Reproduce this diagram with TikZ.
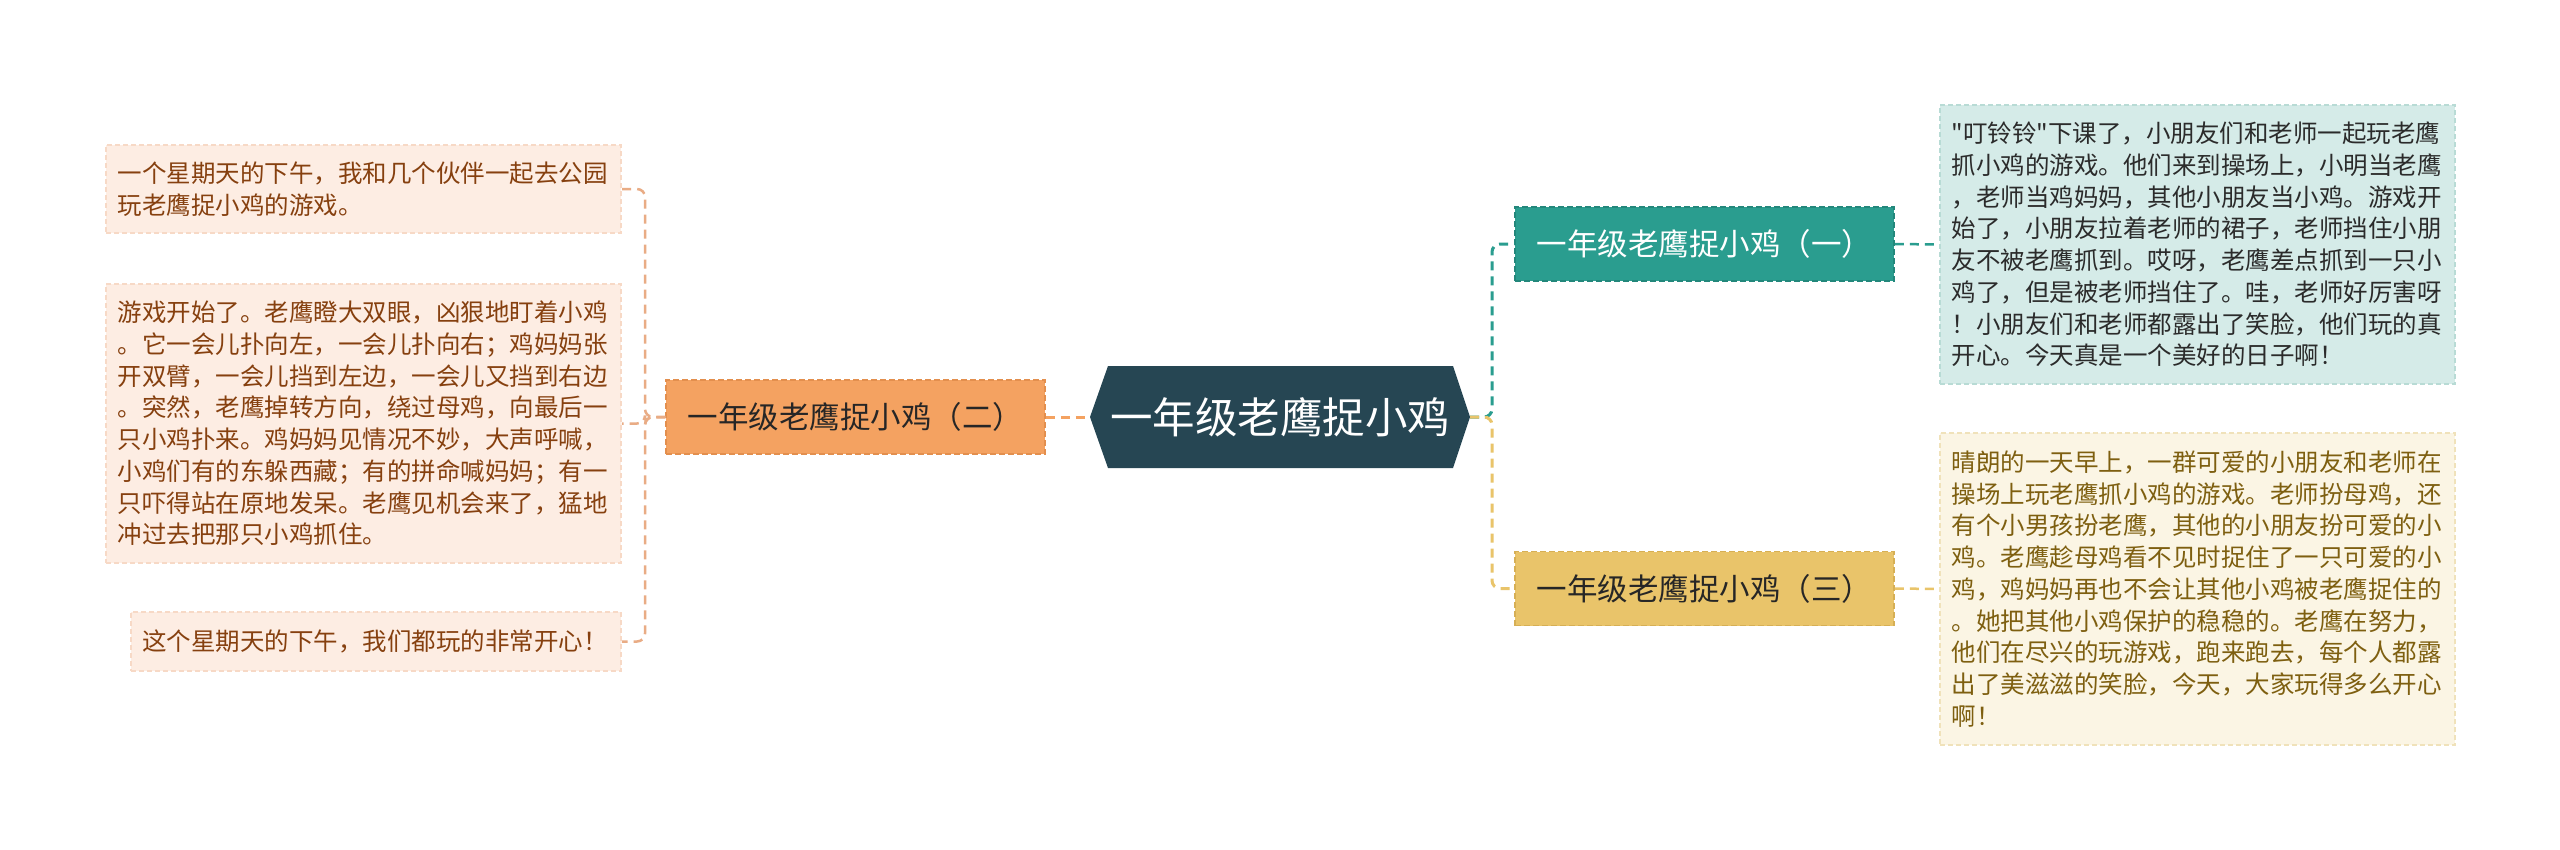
\documentclass[tikz,border=0pt]{standalone}
\usepackage{fontspec}
\setmainfont{Noto Sans CJK SC}[Ligatures=TeXOff]
\definecolor{rootc}{HTML}{264653}
\definecolor{tealc}{HTML}{2A9D8F}
\definecolor{tealb}{HTML}{23877B}
\definecolor{yelc}{HTML}{E9C46A}
\definecolor{yelb}{HTML}{D6AF55}
\definecolor{orac}{HTML}{F4A261}
\definecolor{orab}{HTML}{E38F4E}
\definecolor{peach}{HTML}{FDEDE3}
\definecolor{peachb}{HTML}{F7D9C6}
\definecolor{mint}{HTML}{D5EBE8}
\definecolor{mintb}{HTML}{B8DBD5}
\definecolor{cream}{HTML}{FBF5E4}
\definecolor{creamb}{HTML}{F0E2BA}
\definecolor{browntxt}{HTML}{86400F}
\definecolor{olivetxt}{HTML}{7E5F10}
\definecolor{darktxt}{HTML}{2B2B2B}
\definecolor{oralink}{HTML}{E9AC85}
\tikzset{
  leafbox/.style={draw, dash pattern=on 5pt off 3pt, line width=1.5pt, align=left,
    inner xsep=0pt, inner ysep=0pt, anchor=center,
    font=\fontsize{24.5pt}{31.7pt}\selectfont},
  leafL/.style={leafbox, fill=peach, draw=peachb, text=browntxt, minimum width=515pt},
  leafR1/.style={leafbox, fill=mint, draw=mintb, text=darktxt, minimum width=515pt, text width=492pt},
  leafR2/.style={leafbox, fill=cream, draw=creamb, text=olivetxt, minimum width=515pt, text width=492pt},
  subbox/.style={draw, dash pattern=on 6pt off 3pt, line width=1.5pt, minimum width=379pt,
    minimum height=74pt, inner sep=0pt, anchor=center, font=\fontsize{30.5pt}{36pt}\selectfont},
  rootbox/.style={text=white, inner sep=0pt, font=\fontsize{42.5pt}{50pt}\selectfont},
  link/.style={dash pattern=on 9pt off 6pt, line width=2.5pt, rounded corners=8pt},
}
\begin{document}
\begin{tikzpicture}[x=1pt,y=-1pt]
\useasboundingbox (0,0) rectangle (2560,849);
\fill[white] (0,0) rectangle (2560,849);

% root
\fill[rootc] (1090,417) -- (1108,366) -- (1453,366) -- (1470,417) -- (1453,468) -- (1108,468) -- cycle;
\coordinate (rootW) at (1090,417);
\coordinate (rootE) at (1470,417);
\node[rootbox] (root) at (1280,417) {一年级老鹰捉小鸡};

% branch nodes
\node[subbox, fill=orac, draw=orab, text=black!85] (B2) at (855.5,417) {一年级老鹰捉小鸡（二）};
\node[subbox, fill=tealc, draw=tealb, text=white] (B1) at (1704.5,244) {一年级老鹰捉小鸡（一）};
\node[subbox, fill=yelc, draw=yelb, text=black!85] (B3) at (1704.5,588.5) {一年级老鹰捉小鸡（三）};

% left leaves
\node[leafL, minimum height=88pt, text width=492pt] (L1) at (363.5,189) {一个星期天的下午，我和几个伙伴一起去公园\\玩老鹰捉小鸡的游戏。};
\node[leafL, minimum height=279pt, text width=492pt] (L2) at (363.5,423.5) {游戏开始了。老鹰瞪大双眼，凶狠地盯着小鸡\\。它一会儿扑向左，一会儿扑向右；鸡妈妈张\\开双臂，一会儿挡到左边，一会儿又挡到右边\\。突然，老鹰掉转方向，绕过母鸡，向最后一\\只小鸡扑来。鸡妈妈见情况不妙，大声呼喊，\\小鸡们有的东躲西藏；有的拼命喊妈妈；有一\\只吓得站在原地发呆。老鹰见机会来了，猛地\\冲过去把那只小鸡抓住。};
\node[leafL, minimum width=490pt, minimum height=59pt, text width=468pt] (L3) at (376,641.5) {这个星期天的下午，我们都玩的非常开心！};

% right leaves
\node[leafR1, minimum height=279pt] (R1) at (2197.5,244.5) {"叮铃铃"下课了，小朋友们和老师一起玩老鹰\\抓小鸡的游戏。他们来到操场上，小明当老鹰\\，老师当鸡妈妈，其他小朋友当小鸡。游戏开\\始了，小朋友拉着老师的裙子，老师挡住小朋\\友不被老鹰抓到。哎呀，老鹰差点抓到一只小\\鸡了，但是被老师挡住了。哇，老师好厉害呀\\！小朋友们和老师都露出了笑脸，他们玩的真\\开心。今天真是一个美好的日子啊！};
\node[leafR2, minimum height=312pt] (R2) at (2197.5,589) {晴朗的一天早上，一群可爱的小朋友和老师在\\操场上玩老鹰抓小鸡的游戏。老师扮母鸡，还\\有个小男孩扮老鹰，其他的小朋友扮可爱的小\\鸡。老鹰趁母鸡看不见时捉住了一只可爱的小\\鸡，鸡妈妈再也不会让其他小鸡被老鹰捉住的\\。她把其他小鸡保护的稳稳的。老鹰在努力，\\他们在尽兴的玩游戏，跑来跑去，每个人都露\\出了美滋滋的笑脸，今天，大家玩得多么开心\\啊！};

% connectors
\draw[link, draw=orac, line width=3pt] (B2.east) -- (rootW);
\draw[link, draw=tealc, line width=3pt] (rootE) -- (1492,417) |- (B1.west);
\draw[link, draw=yelc, line width=3pt] (rootE) -- (1492,417) |- (B3.west);
\draw[link, draw=oralink] (B2.west) -- (645,417) |- (L1.east);
\draw[link, draw=oralink] (B2.west) -- (645,417) |- (L2.east);
\draw[link, draw=oralink] (B2.west) -- (645,417) |- (L3.east);
\draw[link, draw=tealc] (B1.east) -- (R1.west);
\draw[link, draw=yelc] (B3.east) -- (R2.west);
\end{tikzpicture}
\end{document}
